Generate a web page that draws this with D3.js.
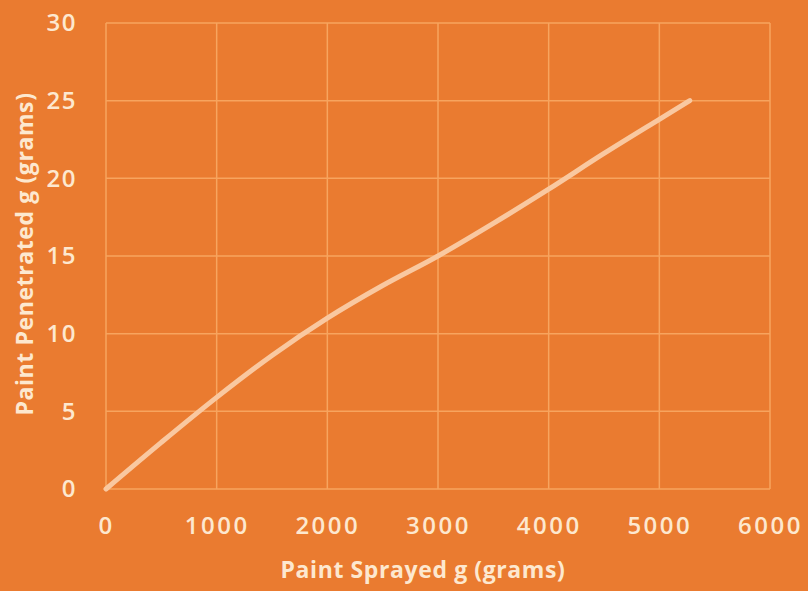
<!DOCTYPE html>
<html><head><meta charset="utf-8">
<script src="https://cdn.jsdelivr.net/npm/d3@7"></script>
<style>
html,body{margin:0;padding:0;background:#ea7b30;}
svg{display:block;}
text{font-family:"Open Sans",sans-serif;}
</style></head>
<body>
<svg id="chart" width="808" height="591"></svg>
<script>
const sprayed = [0, 500, 1000, 1500, 2000, 2500, 3000, 3500, 4000, 4500, 5000, 5275];
const penetrated = [0, 3.0, 5.9, 8.6, 11.0, 13.1, 15.0, 17.1, 19.3, 21.6, 23.8, 25.0];
const xTicks = [0, 1000, 2000, 3000, 4000, 5000, 6000];
const yTicks = [0, 5, 10, 15, 20, 25, 30];
const xTitle = "Paint Sprayed g (grams)";
const yTitle = "Paint Penetrated g (grams)";

const W = 808, H = 591;
const m = {left:106, right:38, top:23, bottom:102};
const svg = d3.select("#chart");
svg.append("rect").attr("width",W).attr("height",H).attr("fill","#ea7b30");

const x = d3.scaleLinear().domain([0,6000]).range([m.left, W-m.right]);
const y = d3.scaleLinear().domain([0,30]).range([H-m.bottom, m.top]);

const textCol = "#fde8cf";
const gridCol = "#f7a45e";

// grid
svg.append("g").selectAll("line").data(yTicks).join("line")
  .attr("x1", x(0)).attr("x2", x(6000))
  .attr("y1", d=>y(d)).attr("y2", d=>y(d))
  .attr("stroke", gridCol).attr("stroke-width", 1.5);
svg.append("g").selectAll("line").data(xTicks).join("line")
  .attr("y1", y(0)).attr("y2", y(30))
  .attr("x1", d=>x(d)).attr("x2", d=>x(d))
  .attr("stroke", gridCol).attr("stroke-width", 1.5);

// axes
const xAxis = svg.append("g").attr("transform",`translate(0,${y(0)})`)
  .call(d3.axisBottom(x).tickValues(xTicks).tickSize(0).tickPadding(28).tickFormat(d3.format("d")));
xAxis.select(".domain").remove();
xAxis.selectAll("text").attr("fill", textCol).attr("font-size", 24).attr("font-weight", 600)
  .attr("letter-spacing", 2.5)
  .attr("font-family", "'Open Sans',sans-serif");

const yAxis = svg.append("g").attr("transform",`translate(${x(0)},0)`)
  .call(d3.axisLeft(y).tickValues(yTicks).tickSize(0).tickPadding(29).tickFormat(d3.format("d")));
yAxis.select(".domain").remove();
yAxis.selectAll("text").attr("fill", textCol).attr("font-size", 24).attr("font-weight", 600)
  .attr("letter-spacing", 1.5)
  .attr("font-family", "'Open Sans',sans-serif");

// line
const pts = sprayed.map((v,i)=>[v, penetrated[i]]);
svg.append("path").datum(pts)
  .attr("fill","none").attr("stroke","#f9c8a0").attr("stroke-width",5)
  .attr("stroke-linecap","round").attr("stroke-linejoin","round")
  .attr("d", d3.line().x(d=>x(d[0])).y(d=>y(d[1])).curve(d3.curveMonotoneX));

// titles
svg.append("text").attr("x", 423).attr("y", 578)
  .attr("text-anchor","middle").attr("fill", textCol)
  .attr("font-size", 23).attr("font-weight", 700).attr("letter-spacing", 0.6).text(xTitle);
svg.append("text").attr("transform", `translate(33,254) rotate(-90)`)
  .attr("text-anchor","middle").attr("fill", textCol)
  .attr("font-size", 23).attr("font-weight", 700).attr("letter-spacing", 0.6).text(yTitle);
</script>
</body></html>
